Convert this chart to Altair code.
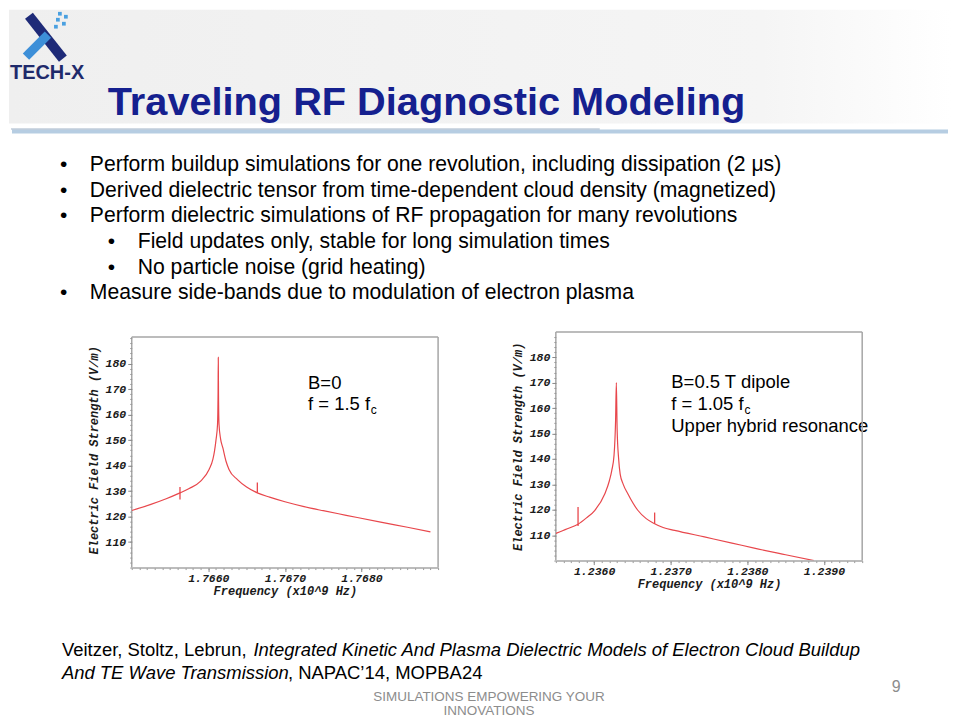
import altair as alt
import pandas as pd

# ---------------- data ----------------
left_freq = [1.76500, 1.76525, 1.76545, 1.76563, 1.76575, 1.76590, 1.76601, 1.76606, 1.76608,
             1.76610, 1.76612, 1.766127, 1.76613, 1.766133, 1.76614, 1.76616, 1.76619, 1.76623,
             1.76627, 1.76638, 1.76650, 1.76664, 1.76680, 1.76700, 1.76725, 1.76750, 1.76780,
             1.76825, 1.76860, 1.76890]
left_field = [122.4, 124.8, 127.0, 129.3, 131.0, 133.9, 138.5, 142.5, 145.6,
              150.0, 156.1, 168.0, 182.4, 168.0, 156.0, 150.5, 146.9, 141.8,
              138.5, 134.5, 131.6, 129.3, 127.6, 125.8, 123.9, 122.3, 120.5,
              117.8, 115.8, 114.0]
left_spike_freq = [1.76563, 1.76664]
left_spike_low = [126.7, 129.3]
left_spike_high = [131.6, 133.4]

right_freq = [1.23550, 1.23565, 1.23579, 1.23590, 1.23601, 1.23614, 1.23620, 1.23623, 1.23626,
              1.23628, 1.23629, 1.23630, 1.23632, 1.23634, 1.23638, 1.23644, 1.23657, 1.23668,
              1.23679, 1.23690, 1.23705, 1.23744, 1.23780, 1.23809, 1.23850, 1.23887]
right_field = [110.7, 112.5, 114.3, 116.8, 119.8, 126.3, 131.5, 135.4, 141.5,
               155.0, 170.0, 152.0, 140.0, 134.0, 130.0, 126.3, 119.8, 116.5,
               114.5, 113.0, 111.9, 109.3, 106.9, 104.9, 102.3, 100.0]
right_spike_freq = [1.23579, 1.23679]
right_spike_low = [113.6, 114.5]
right_spike_high = [121.1, 118.9]

left_x_ticks = [1.766, 1.767, 1.768]
right_x_ticks = [1.236, 1.237, 1.238, 1.239]
y_ticks = [110, 120, 130, 140, 150, 160, 170, 180]
left_minor_x = [round(1.765 + k * 0.0001, 4) for k in range(41)]
right_minor_x = [round(1.2355 + k * 0.0001, 4) for k in range(41)]
minor_y = list(range(100, 191, 2))

title_text = "Traveling RF Diagnostic Modeling"
bullet_texts = [
    "Perform buildup simulations for one revolution, including dissipation (2 \u03bcs)",
    "Derived dielectric tensor from time-dependent cloud density (magnetized)",
    "Perform dielectric simulations of RF propagation for many revolutions",
    "Field updates only, stable for long simulation times",
    "No particle noise (grid heating)",
    "Measure side-bands due to modulation of electron plasma",
]
bullet_levels = [0, 0, 0, 1, 1, 0]
bullet_baselines = [170, 195.5, 221, 247, 272.5, 298]

# ---------------- layout constants ----------------
X0, Y0 = 131, 331          # page position of left plot group origin
RX0 = 556                  # page x of right plot group origin
W = 307
HL, HR = 236, 229
FRAME = "#a6a6a6"
RED = "#e8474c"
MONO = "Liberation Mono"
SANS = "Liberation Sans"

dummy = pd.DataFrame({"d": [0]})


def T(x, y, s, size, color="#000000", align="left", font=SANS, **kw):
    return alt.Chart(dummy).mark_text(
        text=s, fontSize=size, font=font, align=align, baseline="alphabetic",
        color=color, **kw
    ).encode(x=alt.value(x - X0), y=alt.value(y - Y0))


def R(x1, y1, x2, y2, color, w, ox=X0, oy=Y0):
    return alt.Chart(dummy).mark_rule(color=color, strokeWidth=w, strokeCap="butt").encode(
        x=alt.value(x1 - ox), y=alt.value(y1 - oy), x2=alt.value(x2 - ox), y2=alt.value(y2 - oy)
    )


axis_style = dict(
    grid=False, tickColor="#8a8a8a", tickSize=4, domainColor=FRAME, domainWidth=1.5,
    labelFont=MONO, labelFontSize=11.5, labelFontWeight="bold", labelFontStyle="italic",
    labelColor="#1a1a1a", titleFont=MONO, titleFontSize=12, titleFontWeight="bold",
    titleFontStyle="italic", titleColor="#1a1a1a", zindex=1,
)


def plot_layers(freq, field, sf, slo, shi, xdom, ydom, xticks, minor_x):
    df = pd.DataFrame({"f": freq, "v": field})
    sp = pd.DataFrame({"f": sf, "lo": slo, "hi": shi})
    xs = alt.Scale(domain=xdom, nice=False, zero=False)
    ys = alt.Scale(domain=ydom, nice=False, zero=False)
    minor = alt.Chart(df).mark_line(opacity=0).encode(
        x=alt.X("f:Q", scale=xs, axis=alt.Axis(values=minor_x, labels=False, tickSize=2, domain=False,
                                               grid=False, title=None, orient="bottom",
                                               tickColor="#999999", zindex=1)),
        y=alt.Y("v:Q", scale=ys, axis=alt.Axis(values=minor_y, labels=False, tickSize=2, domain=False,
                                               grid=False, title=None, orient="left",
                                               tickColor="#999999", zindex=1)),
    )
    line = alt.Chart(df).mark_line(color=RED, strokeWidth=1.2, clip=True, interpolate="monotone").encode(
        x=alt.X("f:Q", scale=xs, axis=alt.Axis(values=xticks, format=".4f",
                                               title="Frequency (x10^9 Hz)", orient="bottom",
                                               labelPadding=1, titlePadding=1, **axis_style)),
        y=alt.Y("v:Q", scale=ys, axis=alt.Axis(values=y_ticks, title="Electric Field Strength (V/m)",
                                               orient="left", domain=False, labelPadding=2,
                                               titlePadding=5, **axis_style)),
    )
    spikes = alt.Chart(sp).mark_rule(color=RED, strokeWidth=1.3).encode(
        x=alt.X("f:Q", scale=xs, axis=None), y=alt.Y("lo:Q", scale=ys, axis=None), y2="hi:Q")
    return minor, line, spikes


# ---------------- left panel (also carries the slide text) ----------------
layers = []
# bounds of the whole slide (invisible)
layers.append(alt.Chart(dummy).mark_rect(opacity=0).encode(
    x=alt.value(8 - X0), x2=alt.value(952 - X0), y=alt.value(8 - Y0), y2=alt.value(712 - Y0)))
# header band
layers.append(alt.Chart(dummy).mark_rect(color=alt.LinearGradient(
    gradient="linear", x1=0, x2=1, y1=0, y2=0,
    stops=[alt.GradientStop(color="#efefef", offset=0), alt.GradientStop(color="#f5f5f5", offset=0.8),
           alt.GradientStop(color="#ffffff", offset=1)])).encode(
    x=alt.value(8 - X0), x2=alt.value(952 - X0), y=alt.value(8 - Y0), y2=alt.value(122 - Y0)))
# swoosh line under the title
layers.append(R(11, 130, 949, 130, "#b6cde2", 4))
layers.append(R(10, 127.5, 600, 127.5, "#a3b5c8", 1))
# logo
layers.append(R(28, 14, 62, 57, "#1e2a78", 10))
layers.append(R(47, 33, 25, 55, "#3d8fd8", 9))
for (dx, dy) in [(59, 12), (65, 15), (57, 18), (63, 22), (55, 25)]:
    layers.append(alt.Chart(dummy).mark_square(color="#4aa0e0", size=14, opacity=1).encode(
        x=alt.value(dx - X0), y=alt.value(dy - Y0)))
layers.append(T(9, 77, "TECH-X", 20, color="#1f2a6b", fontWeight="bold"))
# title
layers.append(T(107, 113, title_text, 39.8, color="#15208f", fontWeight="bold"))
# bullets
for txt, lvl, yb in zip(bullet_texts, bullet_levels, bullet_baselines):
    bx, tx = (59, 89) if lvl == 0 else (107, 137)
    layers.append(T(bx, yb, "\u2022", 21))
    layers.append(T(tx, yb, txt, 21.2))
# annotations
layers.append(T(307.7, 388.5, "B=0", 18.5))
layers.append(T(307.7, 409.5, "f = 1.5 f", 18.5))
layers.append(T(370.5, 413, "c", 12))
layers.append(T(671.7, 387, "B=0.5 T dipole", 18.5))
layers.append(T(671.7, 409.5, "f = 1.05 f", 18.5))
layers.append(T(745, 413, "c", 12))
layers.append(T(671.7, 431.5, "Upper hybrid resonance", 18.5))
# footer
layers.append(T(61, 656, "Veitzer, Stoltz, Lebrun, ", 18.5))
layers.append(T(253, 656, "Integrated Kinetic And Plasma Dielectric Models of Electron Cloud Buildup", 18.5,
                fontStyle="italic"))
layers.append(T(61, 679, "And TE Wave Transmission", 18.5, fontStyle="italic"))
layers.append(T(287.5, 679, ", NAPAC\u201914, MOPBA24", 18.5))
layers.append(T(489, 701, "SIMULATIONS EMPOWERING YOUR", 13.5, color="#8c8c8c", align="center"))
layers.append(T(489, 715, "INNOVATIONS", 13.5, color="#8c8c8c", align="center"))
layers.append(T(897, 692, "9", 16, color="#8c8c8c", align="center"))
# left plot frame
top = 336
layers.append(R(X0, top, X0 + W, top, FRAME, 1.5))
layers.append(R(X0, top, X0, Y0 + HL, FRAME, 1.5))
layers.append(R(X0 + W, top, X0 + W, Y0 + HL, FRAME, 1.5))
layers += list(plot_layers(left_freq, left_field, left_spike_freq, left_spike_low, left_spike_high,
                           [1.765, 1.769], [100, 192.36], left_x_ticks, left_minor_x))

left = alt.layer(*layers).resolve_axis(x="independent", y="independent").properties(width=W, height=HL)

# ---------------- right panel ----------------
rl = []
rl.append(R(RX0, Y0, RX0 + W, Y0, FRAME, 1.5, ox=RX0))
rl.append(R(RX0, Y0, RX0, Y0 + HR, FRAME, 1.5, ox=RX0))
rl.append(R(RX0 + W, Y0, RX0 + W, Y0 + HR, FRAME, 1.5, ox=RX0))
rl += list(plot_layers(right_freq, right_field, right_spike_freq, right_spike_low, right_spike_high,
                       [1.2355, 1.2395], [100, 189.9], right_x_ticks, right_minor_x))
right = alt.layer(*rl).resolve_axis(x="independent", y="independent").properties(width=W, height=HR)

chart = alt.hconcat(left, right, spacing=RX0 - (X0 + W), bounds="flush").properties(
    padding=0
).configure_view(stroke="transparent")

chart.save("out.html", embed_options={"renderer": "svg", "actions": False})
